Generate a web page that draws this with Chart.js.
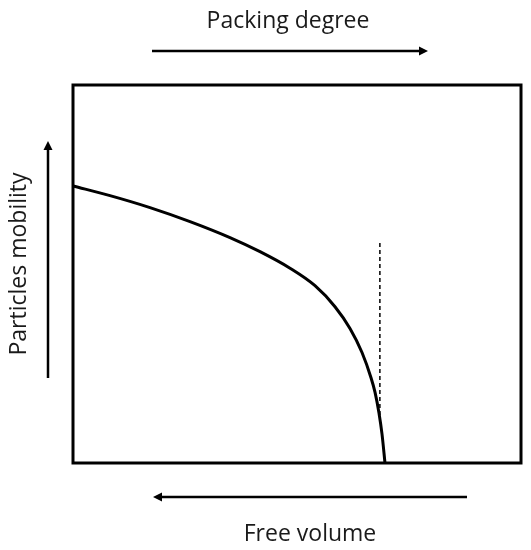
<!DOCTYPE html>
<html>
<head>
<meta charset="utf-8">
<script src="https://cdn.jsdelivr.net/npm/chart.js@4.4.0/dist/chart.umd.min.js"></script>
<style>
  html, body { margin: 0; padding: 0; background: #fff; }
  #wrap { width: 531px; height: 550px; }
</style>
</head>
<body>
<div id="wrap"><canvas id="chart" width="531" height="550"></canvas></div>
<script>
  // Curve: free volume axis (x, 0-100) vs particles mobility (y, 0-100)
  const curveX = [0, 8.26, 17.19, 26.12, 35.04, 41.74, 48.44, 54.02, 58.48, 61.83, 64.51, 66.52, 67.41, 68.30, 68.97, 69.64];
  const curveY = [73.28, 70.74, 67.57, 63.86, 59.63, 55.90, 51.53, 46.90, 41.35, 35.58, 29.23, 22.57, 18.76, 13.25, 7.70, 0];

  // Dashed vertical marker
  const markerX = [68.5, 68.5];
  const markerY = [58.2, 11];

  const titleTop = 'Packing degree';
  const titleBottom = 'Free volume';
  const titleLeft = 'Particles mobility';

  const toPoints = (xs, ys) => xs.map((x, i) => ({ x: x, y: ys[i] }));

  function arrow(ctx, x1, y1, x2, y2) {
    const ang = Math.atan2(y2 - y1, x2 - x1);
    const head = 9, half = 4.5;
    ctx.beginPath();
    ctx.moveTo(x1, y1);
    ctx.lineTo(x2 - Math.cos(ang) * head * 0.8, y2 - Math.sin(ang) * head * 0.8);
    ctx.stroke();
    ctx.beginPath();
    ctx.moveTo(x2, y2);
    ctx.lineTo(x2 - Math.cos(ang) * head - Math.sin(ang) * half, y2 - Math.sin(ang) * head + Math.cos(ang) * half);
    ctx.lineTo(x2 - Math.cos(ang) * head + Math.sin(ang) * half, y2 - Math.sin(ang) * head - Math.cos(ang) * half);
    ctx.closePath();
    ctx.fill();
  }

  const decor = {
    id: 'decor',
    beforeDatasetsDraw(chart) {
      const ctx = chart.ctx;
      const a = chart.chartArea;
      ctx.save();
      ctx.strokeStyle = '#000';
      ctx.lineWidth = 3;
      ctx.strokeRect(a.left, a.top, a.right - a.left, a.bottom - a.top);
      ctx.restore();
    },
    afterDraw(chart) {
      const ctx = chart.ctx;
      ctx.save();
      ctx.strokeStyle = '#000';
      ctx.fillStyle = '#000';
      ctx.lineWidth = 2.5;
      arrow(ctx, 152, 51, 428, 51);
      arrow(ctx, 467, 497, 153, 497);
      arrow(ctx, 48, 378, 48, 141);

      ctx.fillStyle = '#1a1a1a';
      ctx.font = '23px "Open Sans", sans-serif';
      ctx.textAlign = 'center';
      ctx.textBaseline = 'middle';
      ctx.fillText(titleTop, 288, 21);
      ctx.fillText(titleBottom, 310, 534);
      ctx.translate(19, 264);
      ctx.rotate(-Math.PI / 2);
      ctx.fillText(titleLeft, 0, 0);
      ctx.restore();
    }
  };

  new Chart(document.getElementById('chart').getContext('2d'), {
    type: 'line',
    data: {
      datasets: [{
        data: toPoints(curveX, curveY),
        borderColor: '#000',
        borderWidth: 3,
        pointRadius: 0,
        cubicInterpolationMode: 'monotone',
        fill: false,
        clip: false
      }, {
        data: toPoints(markerX, markerY),
        borderColor: '#000',
        borderWidth: 1.5,
        borderDash: [4, 3],
        pointRadius: 0,
        fill: false
      }]
    },
    options: {
      responsive: false,
      animation: false,
      layout: { padding: { left: 73, right: 10, top: 85, bottom: 87 } },
      plugins: {
        legend: { display: false },
        tooltip: { enabled: false }
      },
      scales: {
        x: { type: 'linear', min: 0, max: 100, display: false },
        y: { type: 'linear', min: 0, max: 100, display: false }
      }
    },
    plugins: [decor]
  });
</script>
</body>
</html>
